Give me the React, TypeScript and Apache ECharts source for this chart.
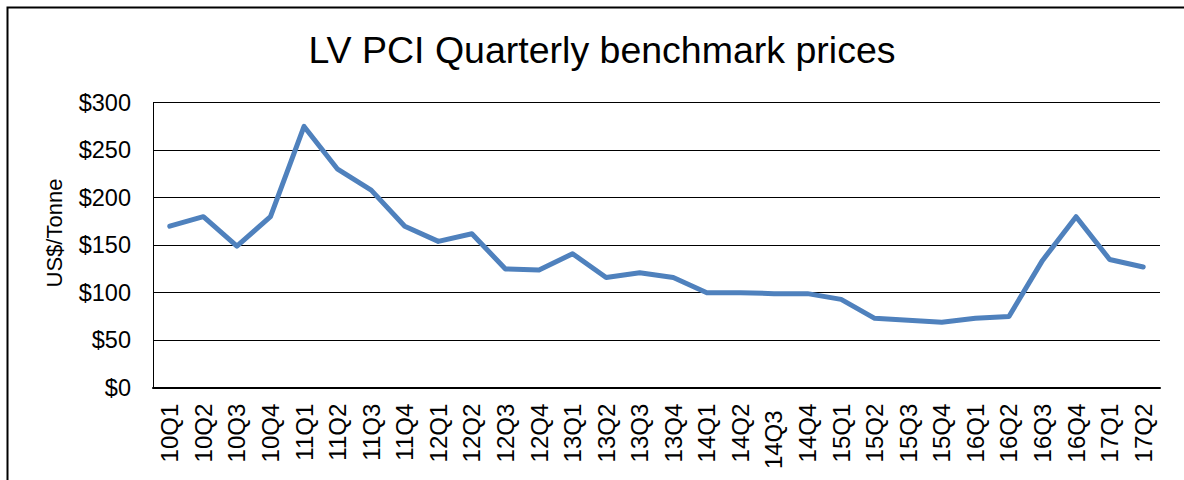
import React, { useEffect, useRef } from "react";
import * as echarts from "echarts";

const categories = [
  "10Q1", "10Q2", "10Q3", "10Q4",
  "11Q1", "11Q2", "11Q3", "11Q4",
  "12Q1", "12Q2", "12Q3", "12Q4",
  "13Q1", "13Q2", "13Q3", "13Q4",
  "14Q1", "14Q2", "14Q3", "14Q4",
  "15Q1", "15Q2", "15Q3", "15Q4",
  "16Q1", "16Q2", "16Q3", "16Q4",
  "17Q1", "17Q2",
];

const prices = [
  170, 180, 149, 180,
  275, 230, 208, 170,
  154, 162, 125, 124,
  141, 116, 121, 116,
  100, 100, 99, 99,
  93, 73, 71, 69,
  73, 75, 134, 180,
  135, 127,
];

const yTicks = [0, 50, 100, 150, 200, 250, 300];

const titleText = "LV PCI Quarterly benchmark prices";
const yAxisTitle = "US$/Tonne";

export default function App() {
  const ref = useRef<HTMLDivElement>(null);

  useEffect(() => {
    document.body.style.margin = "0";
    const chart = echarts.init(ref.current!, null, { renderer: "svg" });
    const font = "Liberation Sans";
    chart.setOption({
      animation: false,
      backgroundColor: "#ffffff",
      title: {
        text: titleText,
        left: 597,
        top: 26,
        textAlign: "center",
        textStyle: {
          fontFamily: font,
          fontSize: 37.5,
          fontWeight: "normal",
          color: "#000000",
        },
      },
      graphic: [
        {
          type: "rect",
          shape: { x: 7.5, y: 7.5, width: 1300, height: 600 },
          style: { fill: "none", stroke: "#000000", lineWidth: 2 },
          silent: true,
        },
        {
          type: "text",
          x: 54,
          y: 233,
          rotation: Math.PI / 2,
          style: {
            text: yAxisTitle,
            fontFamily: font,
            fontSize: 22,
            fill: "#000000",
            align: "center",
            verticalAlign: "middle",
          },
        },
      ],
      grid: {
        left: 153,
        right: 24,
        top: 102.7,
        bottom: 92.3,
        containLabel: false,
      },
      xAxis: {
        type: "category",
        data: categories,
        boundaryGap: true,
        axisLine: { show: true, lineStyle: { color: "#000000", width: 2 } },
        axisTick: { show: false },
        axisLabel: {
          rotate: 90,
          interval: 0,
          margin: 16,
          fontFamily: font,
          fontSize: 24,
          color: "#000000",
          formatter: (v: string) => (v === "14Q3" ? v + "\u00a0" : v),
        },
        splitLine: { show: false },
      },
      yAxis: {
        type: "value",
        min: yTicks[0],
        max: yTicks[yTicks.length - 1],
        interval: 50,
        axisLine: { show: true, lineStyle: { color: "#000000", width: 1 } },
        axisTick: { show: false },
        axisLabel: {
          margin: 22,
          fontFamily: font,
          fontSize: 23.5,
          color: "#000000",
          formatter: (v: number) => "$" + v,
        },
        splitLine: { show: true, lineStyle: { color: "#000000", width: 1 } },
      },
      series: [
        {
          type: "line",
          data: prices,
          symbol: "none",
          lineStyle: { color: "#4F81BD", width: 5, join: "round", cap: "round" },
          itemStyle: { color: "#4F81BD" },
        },
      ],
    });
    return () => chart.dispose();
  }, []);

  return (
    <div
      ref={ref}
      style={{ position: "absolute", left: 0, top: 0, width: 1184, height: 480 }}
    />
  );
}
